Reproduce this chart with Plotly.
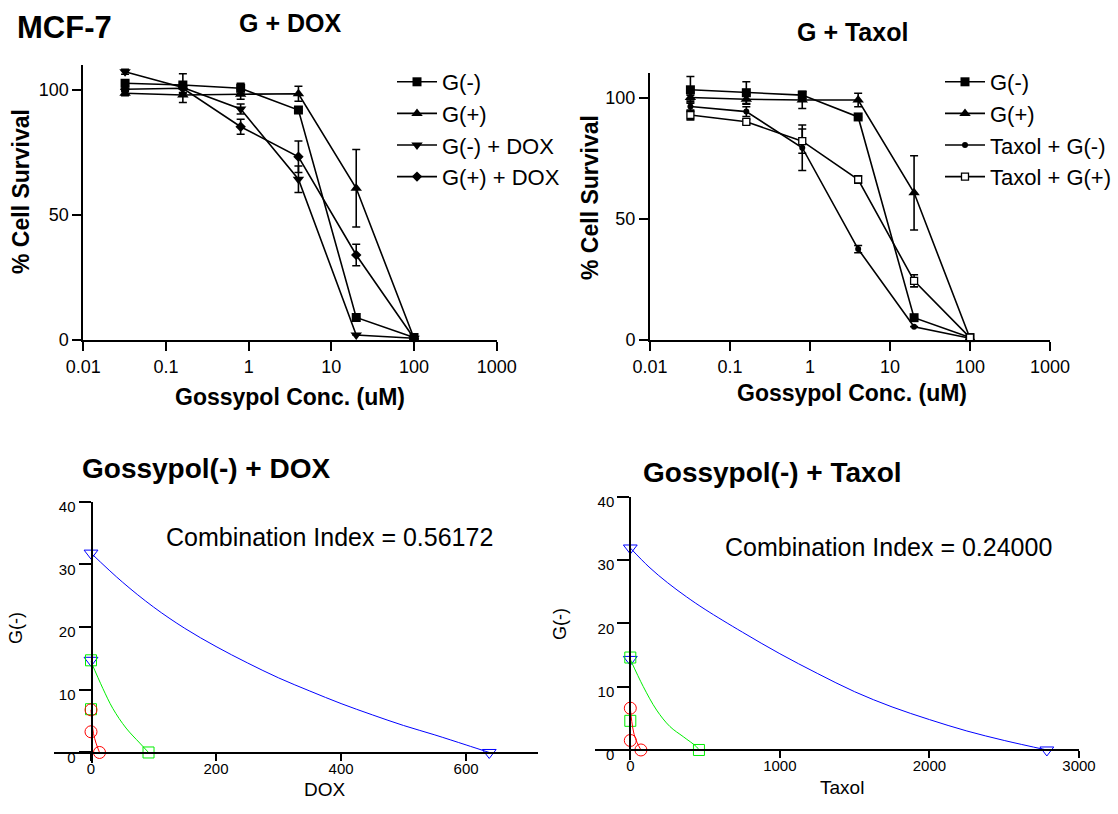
import plotly.graph_objects as go

W, H = 1118, 814
FONT = "Liberation Sans, Arial, sans-serif"

# ---------------- data: top panels (Gossypol concentration, uM) ----------------
conc = [0.032, 0.16, 0.8, 4, 20, 100]
x_tickvals = [0.01, 0.1, 1, 10, 100, 1000]
x_ticktext = ["0.01", "0.1", "1", "10", "100", "1000"]

# G + DOX panel
dox_gneg = [102.7, 102.0, 100.7, 92.0, 9.0, 1.0]
dox_gneg_err = [1.0, 4.5, 2.0, 0.0, 0.0, 0.0]
dox_gpos = [98.7, 98.0, 98.3, 98.5, 60.7, 0.7]
dox_gpos_err = [1.0, 3.0, 2.0, 3.0, 15.5, 0.0]
dox_gneg_dox = [107.3, 101.0, 92.4, 64.3, 2.0, 0.7]
dox_gneg_dox_err = [1.0, 2.0, 2.0, 5.3, 0.0, 0.0]
dox_gpos_dox = [100.3, 100.7, 85.3, 73.3, 34.0, 0.7]
dox_gpos_dox_err = [1.0, 2.0, 3.0, 6.3, 4.3, 0.0]

# G + Taxol panel
tax_gneg = [103.2, 102.0, 101.0, 92.0, 9.2, 1.0]
tax_gneg_err = [5.5, 4.5, 1.5, 0.0, 0.0, 0.0]
tax_gpos = [100.0, 99.3, 99.0, 99.0, 60.7, 0.7]
tax_gpos_err = [1.0, 2.0, 3.5, 2.8, 15.3, 0.0]
tax_taxol_gneg = [96.3, 94.2, 79.3, 37.5, 5.5, 0.7]
tax_taxol_gneg_err = [2.0, 2.0, 9.4, 1.5, 0.0, 0.0]
tax_taxol_gpos = [92.8, 90.0, 82.0, 66.2, 24.4, 1.0]
tax_taxol_gpos_err = [2.0, 1.0, 5.0, 1.5, 2.5, 0.0]

# ---------------- data: isobolograms ----------------
# Gossypol(-) + DOX
dox_ed90_curve_x = [0, 50, 100, 150, 200, 250, 300, 350, 400, 450, 500, 550, 600, 637]
dox_ed90_curve_y = [31.8, 27.2, 23.2, 19.8, 16.9, 14.3, 11.9, 9.8, 7.8, 6.0, 4.3, 2.8, 1.2, 0.0]
dox_ed75_curve_x = [0, 19, 35, 56, 78, 92]
dox_ed75_curve_y = [14.5, 10.2, 7.0, 3.9, 1.5, 0.0]
dox_ed50_curve_x = [0, 2, 4, 8, 13.6]
dox_ed50_curve_y = [6.8, 4.5, 3.0, 1.5, 0.0]
dox_ed90_pts_x = [0, 637, 0]
dox_ed90_pts_y = [31.8, 0.0, 14.7]
dox_ed75_pts_x = [0, 92, 0]
dox_ed75_pts_y = [14.7, 0.0, 6.9]
dox_ed50_pts_x = [0, 13.6, 0]
dox_ed50_pts_y = [6.8, 0.0, 3.3]
dox_ci = "Combination Index = 0.56172"
dox_xticks = [0, 200, 400, 600]

# Gossypol(-) + Taxol
tax_ed90_curve_x = [0, 125, 250, 375, 500, 750, 1000, 1250, 1500, 1750, 2000, 2250, 2500, 2785]
tax_ed90_curve_y = [31.9, 28.9, 26.4, 24.2, 22.2, 18.6, 15.2, 12.1, 9.2, 6.8, 4.8, 3.0, 1.5, 0.0]
tax_ed75_curve_x = [0, 87, 176, 265, 354, 443, 459]
tax_ed75_curve_y = [14.3, 10.0, 6.3, 3.7, 2.1, 0.5, 0.0]
tax_ed50_curve_x = [0, 10, 25, 45, 71]
tax_ed50_curve_y = [6.6, 4.5, 2.5, 1.2, 0.0]
tax_ed90_pts_x = [0, 2785, 0]
tax_ed90_pts_y = [31.9, 0.0, 14.3]
tax_ed75_pts_x = [0, 459, 0]
tax_ed75_pts_y = [14.6, 0.0, 4.6]
tax_ed50_pts_x = [0, 71, 0]
tax_ed50_pts_y = [6.6, 0.0, 1.5]
tax_ci = "Combination Index = 0.24000"
tax_xticks = [0, 1000, 2000, 3000]

iso_yticks = [0, 10, 20, 30, 40]


def fx(p):
    return p / W


def fy(p):
    return 1 - p / H


fig = go.Figure()


def add_series(xa, ya, y, err, name, symbol, size, legend, fill="black", lw=0):
    fig.add_trace(go.Scatter(
        x=conc, y=y, name=name, xaxis=xa, yaxis=ya, legend=legend,
        mode="lines+markers",
        line=dict(color="black", width=1.6),
        marker=dict(symbol=symbol, size=size, color=fill,
                    line=dict(color="black", width=lw)),
        error_y=dict(type="data", array=err, color="black", thickness=1.6, width=4),
        cliponaxis=False,
    ))


add_series("x", "y", dox_gneg, dox_gneg_err, "G(-)", "square", 9, "legend")
add_series("x", "y", dox_gpos, dox_gpos_err, "G(+)", "triangle-up", 10, "legend")
add_series("x", "y", dox_gneg_dox, dox_gneg_dox_err, "G(-) + DOX", "triangle-down", 10, "legend")
add_series("x", "y", dox_gpos_dox, dox_gpos_dox_err, "G(+) + DOX", "diamond", 8, "legend")

add_series("x2", "y2", tax_gneg, tax_gneg_err, "G(-)", "square", 9, "legend2")
add_series("x2", "y2", tax_gpos, tax_gpos_err, "G(+)", "triangle-up", 10, "legend2")
add_series("x2", "y2", tax_taxol_gneg, tax_taxol_gneg_err, "Taxol + G(-)", "circle", 6, "legend2")
add_series("x2", "y2", tax_taxol_gpos, tax_taxol_gpos_err, "Taxol + G(+)", "square", 7, "legend2",
           fill="white", lw=1.3)


def add_iso(xa, ya, cx, cy, px_, py_, color, symbol, size):
    fig.add_trace(go.Scatter(
        x=cx, y=cy, xaxis=xa, yaxis=ya, mode="lines", showlegend=False,
        line=dict(color=color, width=1, shape="spline", smoothing=1.0),
    ))
    fig.add_trace(go.Scatter(
        x=px_, y=py_, xaxis=xa, yaxis=ya, mode="markers", showlegend=False,
        marker=dict(symbol=symbol, size=size, color="rgba(0,0,0,0)",
                    line=dict(color=color, width=1)),
        cliponaxis=False,
    ))


BLUE, GREEN, RED = "#0000FF", "#00EE00", "#FF0000"
add_iso("x3", "y3", dox_ed90_curve_x, dox_ed90_curve_y, dox_ed90_pts_x, dox_ed90_pts_y, BLUE, "triangle-down", 12)
add_iso("x3", "y3", dox_ed75_curve_x, dox_ed75_curve_y, dox_ed75_pts_x, dox_ed75_pts_y, GREEN, "square", 11)
add_iso("x3", "y3", dox_ed50_curve_x, dox_ed50_curve_y, dox_ed50_pts_x, dox_ed50_pts_y, RED, "circle", 12)

add_iso("x4", "y4", tax_ed90_curve_x, tax_ed90_curve_y, tax_ed90_pts_x, tax_ed90_pts_y, BLUE, "triangle-down", 12)
add_iso("x4", "y4", tax_ed75_curve_x, tax_ed75_curve_y, tax_ed75_pts_x, tax_ed75_pts_y, GREEN, "square", 11)
add_iso("x4", "y4", tax_ed50_curve_x, tax_ed50_curve_y, tax_ed50_pts_x, tax_ed50_pts_y, RED, "circle", 12)

top_x = dict(type="log", range=[-2, 3], tickvals=x_tickvals, ticktext=x_ticktext,
             showline=True, linecolor="black", linewidth=2, ticks="outside",
             ticklen=9, tickwidth=2, tickcolor="black", showgrid=False, zeroline=False,
             automargin=False,
             tickfont=dict(size=18, color="black", family=FONT))
top_y = dict(range=[0, 110], tickvals=[0, 50, 100], showline=True, linecolor="black",
             linewidth=2, ticks="outside", ticklen=9, tickwidth=2, tickcolor="black",
             showgrid=False, zeroline=False, automargin=False,
             tickfont=dict(size=18, color="black", family=FONT))

iso_x = dict(showline=True, linecolor="black", linewidth=2, ticks="outside", ticklen=7,
             tickwidth=1.5, tickcolor="black", showgrid=False, zeroline=False,
             automargin=False, ticklabelstandoff=-5,
             tickfont=dict(size=15, color="black", family=FONT), anchor="free")
iso_y = dict(range=[-1.6, 40], tickvals=iso_yticks, showline=True, linecolor="black",
             linewidth=2, ticks="outside", ticklen=12, tickwidth=2, tickcolor="black",
             showgrid=False, zeroline=False, ticklabelshift=5, automargin=False,
             tickfont=dict(size=15, color="black", family=FONT), anchor="free")

legend_common = dict(font=dict(size=22, color="black", family=FONT), bgcolor="rgba(0,0,0,0)",
                     borderwidth=0, itemwidth=40, tracegroupgap=0, xanchor="left",
                     yanchor="top", itemclick=False)

fig.update_layout(
    width=W, height=H, autosize=False,
    margin=dict(l=0, r=0, t=0, b=0, pad=0, autoexpand=False),
    paper_bgcolor="white", plot_bgcolor="white",
    font=dict(family=FONT, color="black"),
    xaxis=dict(top_x, domain=[fx(83.3), fx(496.7)], anchor="y"),
    yaxis=dict(top_y, domain=[fy(340), fy(65)], anchor="x"),
    xaxis2=dict(top_x, domain=[fx(650), fx(1050)], anchor="y2"),
    yaxis2=dict(top_y, domain=[fy(340), fy(73.3)], anchor="x2"),
    xaxis3=dict(iso_x, domain=[fx(54), fx(538)], range=[-59.2, 715], tickvals=dox_xticks,
                position=fy(752.5)),
    yaxis3=dict(iso_y, domain=[fy(762.5), fy(501.7)], position=fx(91.5)),
    xaxis4=dict(iso_x, domain=[fx(595), fx(1079)], range=[-236, 3000], tickvals=tax_xticks,
                position=fy(750)),
    yaxis4=dict(iso_y, domain=[fy(760.1), fy(496.7)], position=fx(630.3)),
    legend=dict(legend_common, x=fx(392), y=fy(61)),
    legend2=dict(legend_common, x=fx(940), y=fy(61)),
)


def note(text, x, y, size, angle=0, bold=False):
    fig.add_annotation(text=f"<b>{text}</b>" if bold else text, x=fx(x), y=fy(y),
                       xref="paper", yref="paper", xanchor="center", yanchor="middle",
                       showarrow=False, textangle=angle,
                       font=dict(size=size, color="black", family=FONT))


note("MCF-7", 64, 28, 31, bold=True)
note("G + DOX", 290, 23, 25, bold=True)
note("G + Taxol", 852, 32, 25, bold=True)
note("% Cell Survival", 21, 192, 23, angle=-90, bold=True)
note("% Cell Survival", 590, 198, 23, angle=-90, bold=True)
note("Gossypol Conc. (uM)", 290, 397, 23, bold=True)
note("Gossypol Conc. (uM)", 852, 393, 23, bold=True)

note("Gossypol(-) + DOX", 206, 468, 28, bold=True)
note("Gossypol(-) + Taxol", 772, 473, 28, bold=True)
note(dox_ci, 329, 537, 25)
note(tax_ci, 888, 547, 25)
note("DOX", 325, 789, 19)
note("Taxol", 842, 787, 19)
note("G(-)", 16, 628, 18, angle=-90)
note("G(-)", 560, 624, 18, angle=-90)

fig.write_html(
    "out.html",
    config={"displayModeBar": False},
    post_script="document.body.style.margin='0px';document.body.style.overflow='hidden';",
)
